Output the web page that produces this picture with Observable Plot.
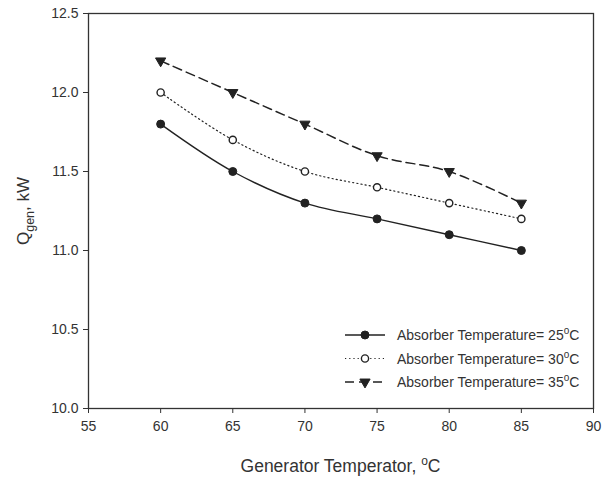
<!DOCTYPE html>
<html><head><meta charset="utf-8">
<script src="https://cdn.jsdelivr.net/npm/d3@7"></script>
<script src="https://cdn.jsdelivr.net/npm/@observablehq/plot@0.6"></script>
<style>body{margin:0;background:#fff;} #chart svg{display:block;}</style>
</head><body><div id="chart"></div>
<script>
const genTemps = [60, 65, 70, 75, 80, 85];
const q25 = [11.8, 11.5, 11.3, 11.2, 11.1, 11.0];
const q30 = [12.0, 11.7, 11.5, 11.4, 11.3, 11.2];
const q35 = [12.2, 12.0, 11.8, 11.6, 11.5, 11.3];
const seriesTemps = ["25", "30", "35"];
const xTicks = [55, 60, 65, 70, 75, 80, 85, 90];
const yTicks = [10.0, 10.5, 11.0, 11.5, 12.0, 12.5];

const ink = "#222";
const styles = [
  {dash: null, width: 1.4, symbol: "circle", fill: ink, r: 4, sw: 1, rotate: 0},
  {dash: "1.2,3", width: 1.2, symbol: "circle", fill: "white", r: 3.6, sw: 1.4, rotate: 0},
  {dash: "9,5", width: 1.5, symbol: "triangle", fill: ink, r: 3.8, sw: 1, rotate: 180}
];
const seriesVals = [q25, q30, q35];
const rows = seriesVals.map((vals, s) => genTemps.map((t, i) => ({x: t, y: vals[i], s})));

const marks = [Plot.frame({stroke: "#333", strokeWidth: 1.3})];
rows.forEach((data, s) => {
  const st = styles[s];
  marks.push(Plot.line(data, {x: "x", y: "y", stroke: ink, strokeWidth: st.width, strokeDasharray: st.dash, curve: "catmull-rom"}));
});
rows.forEach((data, s) => {
  const st = styles[s];
  marks.push(Plot.dot(data, {x: "x", y: "y", symbol: st.symbol, r: st.r, fill: st.fill, stroke: ink, strokeWidth: st.sw, rotate: st.rotate}));
});
marks.push(Plot.axisX({ticks: xTicks, tickSize: 5, label: null, fontSize: 14, tickPadding: 8}));
marks.push(Plot.axisY({ticks: yTicks, tickSize: 5, label: null, fontSize: 14, tickPadding: 5, tickFormat: d => d.toFixed(1)}));

const plot = Plot.plot({
  width: 611, height: 479,
  marginLeft: 88, marginRight: 18, marginTop: 13, marginBottom: 71,
  x: {domain: [55, 90]},
  y: {domain: [10, 12.5]},
  style: {fontFamily: "'Liberation Sans', Arial, sans-serif", fontSize: "14px", color: "#333", background: "white"},
  marks
});
document.getElementById("chart").appendChild(plot);

const svg = d3.select(plot);
const font = "'Liberation Sans', Arial, sans-serif";
// axis labels
const xl = svg.append("text").attr("x", 340.5).attr("y", 472).attr("text-anchor", "middle")
  .attr("font-family", font).attr("font-size", 17.5).attr("fill", "#333");
xl.append("tspan").text("Generator Temperator, ");
xl.append("tspan").attr("font-size", 12).attr("dy", -7).text("o");
xl.append("tspan").attr("dy", 7).text("C");

const yl = svg.append("text").attr("transform", "translate(29,211) rotate(-90)").attr("text-anchor", "middle")
  .attr("font-family", font).attr("font-size", 17).attr("fill", "#333");
yl.append("tspan").text("Q");
yl.append("tspan").attr("font-size", 12.5).attr("dy", 5).text("gen");
yl.append("tspan").attr("dy", -5).text(", kW");

// legend
const lg = svg.append("g").attr("text-anchor", "start");
seriesTemps.forEach((t, i) => {
  const st = styles[i];
  const y = 335 + i * 23.5;
  lg.append("line").attr("x1", 345).attr("x2", 385).attr("y1", y).attr("y2", y)
    .attr("stroke", ink).attr("stroke-width", st.width).attr("stroke-dasharray", st.dash);
  const sym = st.symbol === "circle" ? d3.symbolCircle : d3.symbolTriangle;
  lg.append("path").attr("d", d3.symbol(sym, Math.PI * st.r * st.r)())
    .attr("transform", `translate(365,${y}) rotate(${st.rotate})`)
    .attr("fill", st.fill).attr("stroke", ink).attr("stroke-width", st.sw);
  const tx = lg.append("text").attr("x", 397).attr("y", y + 5).attr("font-family", font)
    .attr("font-size", 14).attr("fill", "#333");
  tx.append("tspan").text("Absorber Temperature= " + t);
  tx.append("tspan").attr("font-size", 10).attr("dy", -6).text("o");
  tx.append("tspan").attr("dy", 6).text("C");
});
</script>
</body></html>
